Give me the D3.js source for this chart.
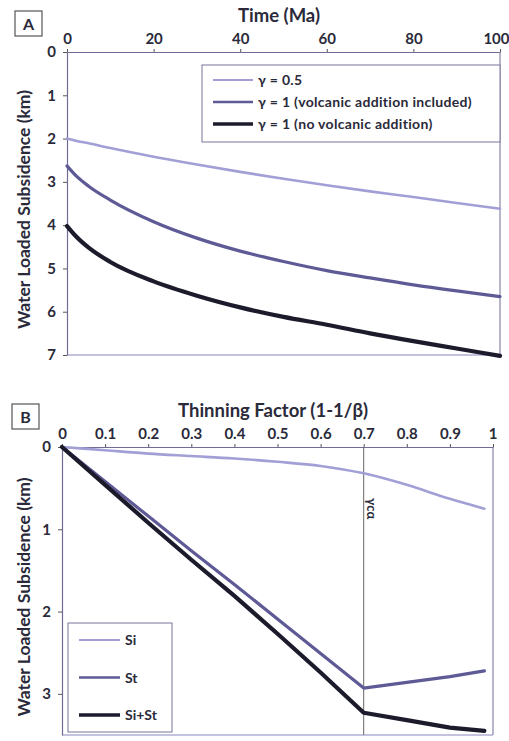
<!DOCTYPE html>
<html lang="en">
<head>
<meta charset="UTF-8">
<title>Water loaded subsidence</title>
<script src="https://d3js.org/d3.v7.min.js"></script>
<style>
  body { margin: 0; background: #fff; }
  svg { display: block; }
  text { font-family: Lato, "Open Sans", sans-serif; font-weight: bold; fill: #2a2a3a; }
</style>
</head>
<body>
<script>
// Panel A: subsidence vs time
const timeMa = [0, 2, 5, 10, 20, 30, 40, 50, 60, 70, 80, 90, 100];
const gammaHalf = [2.0, 2.05, 2.11, 2.22, 2.42, 2.6, 2.77, 2.93, 3.08, 3.22, 3.35, 3.49, 3.62];
const gammaOneVolc = [2.63, 2.85, 3.1, 3.42, 3.92, 4.3, 4.6, 4.84, 5.05, 5.22, 5.38, 5.52, 5.65];
const gammaOneNoVolc = [4.02, 4.25, 4.52, 4.85, 5.3, 5.63, 5.9, 6.12, 6.3, 6.5, 6.68, 6.85, 7.02];
const timeTicks = [0, 20, 40, 60, 80, 100];
const depthTicksA = [0, 1, 2, 3, 4, 5, 6, 7];
const legendA = ["\u03b3 = 0.5", "\u03b3 = 1 (volcanic addition included)", "\u03b3 = 1 (no volcanic addition)"];

// Panel B: subsidence vs thinning factor
const thinning = [0, 0.1, 0.2, 0.3, 0.4, 0.5, 0.6, 0.7, 0.8, 0.9, 0.98];
const si = [0, 0.04, 0.08, 0.11, 0.14, 0.18, 0.23, 0.32, 0.46, 0.63, 0.75];
const st = [0, 0.42, 0.84, 1.26, 1.67, 2.09, 2.51, 2.93, 2.86, 2.79, 2.72];
const siSt = [0, 0.46, 0.92, 1.37, 1.81, 2.27, 2.74, 3.23, 3.32, 3.41, 3.45];
const thinTicks = [0, 0.1, 0.2, 0.3, 0.4, 0.5, 0.6, 0.7, 0.8, 0.9, 1];
const depthTicksB = [0, 1, 2, 3];
const legendB = ["Si", "St", "Si+St"];
const gammaCrit = 0.7;

const colors = ["#a19fd6", "#5e5a96", "#1c1b2c"];
const widths = [2.6, 3.2, 4.2];
const axisColor = "#6f6d98";

const svg = d3.select("body").append("svg")
  .attr("width", 509).attr("height", 741);

function drawPanel(opt) {
  const x = d3.scaleLinear().domain(opt.xDomain).range([opt.left, opt.right]);
  const y = d3.scaleLinear().domain(opt.yDomain).range([opt.top, opt.bottom]);
  const g = svg.append("g");

  // frame: right and bottom lines
  g.append("line").attr("x1", opt.right).attr("x2", opt.right)
    .attr("y1", opt.top).attr("y2", opt.bottom)
    .attr("stroke", axisColor).attr("stroke-width", 1);
  g.append("line").attr("x1", opt.left).attr("x2", opt.right)
    .attr("y1", opt.bottom).attr("y2", opt.bottom)
    .attr("stroke", "#8a88c0").attr("stroke-width", 1.2);

  const xAxis = g.append("g").attr("transform", `translate(0,${opt.top})`)
    .call(d3.axisTop(x).tickValues(opt.xTicks).tickSize(3).tickSizeOuter(0)
      .tickFormat(opt.xFormat));
  const yAxis = g.append("g").attr("transform", `translate(${opt.left},0)`)
    .call(d3.axisLeft(y).tickValues(opt.yTicks).tickSize(4).tickPadding(7)
      .tickSizeOuter(0).tickFormat(d3.format("d")));
  [xAxis, yAxis].forEach(a => {
    a.select(".domain").attr("stroke", axisColor).attr("stroke-width", 1.2);
    a.selectAll(".tick line").attr("stroke", "#555");
    a.selectAll("text").style("font-family", "Lato, sans-serif")
      .style("font-weight", "bold").attr("font-size", 15).attr("fill", "#2a2a3a");
  });
  xAxis.selectAll("text").attr("dy", "-0.15em");
  // last top label sits on the page edge
  xAxis.selectAll(".tick").filter(d => d === opt.xDomain[1]).select("text")
    .attr("text-anchor", "end").attr("dx", opt.lastDx);

  // axis titles
  g.append("text").attr("x", opt.xTitleX).attr("y", opt.top - 30)
    .attr("text-anchor", "middle").attr("font-size", 18.5).text(opt.xTitle);
  g.append("text")
    .attr("transform", `translate(30,${(opt.top + opt.bottom) / 2 + 6}) rotate(-90)`)
    .attr("text-anchor", "middle").attr("font-size", 17.5).text("Water Loaded Subsidence (km)");

  // panel label box
  g.append("rect").attr("x", opt.labelX).attr("y", opt.labelY)
    .attr("width", 27).attr("height", 25).attr("fill", "#fff")
    .attr("stroke", "#555").attr("stroke-width", 1.2);
  g.append("text").attr("x", opt.labelX + 13.5).attr("y", opt.labelY + 18.5)
    .attr("text-anchor", "middle").attr("font-size", 16).text(opt.label);

  if (opt.extra) opt.extra(g, x, y);

  opt.series.forEach((s, i) => {
    const line = d3.line().x(d => x(d[0])).y(d => y(d[1])).curve(opt.curves[i]);
    g.append("path").datum(opt.xs.map((v, j) => [v, s[j]]))
      .attr("fill", "none").attr("stroke", colors[i]).attr("stroke-width", widths[i])
      .attr("stroke-linejoin", "round").attr("stroke-linecap", "round")
      .attr("d", line);
  });

  // legend
  const L = opt.legend;
  g.append("rect").attr("x", L.x).attr("y", L.y).attr("width", L.w).attr("height", L.h)
    .attr("fill", "#fff").attr("stroke", "#77769a").attr("stroke-width", 1);
  opt.legendLabels.forEach((t, i) => {
    const yy = L.y + L.first + i * L.step;
    g.append("line").attr("x1", L.x + 11).attr("x2", L.x + 11 + L.sample)
      .attr("y1", yy).attr("y2", yy)
      .attr("stroke", colors[i]).attr("stroke-width", widths[i] * 0.8);
    g.append("text").attr("x", L.x + 16 + L.sample).attr("y", yy + 5)
      .attr("font-size", L.font).attr("letter-spacing", L.spacing).text(t);
  });
}

const smooth = d3.curveMonotoneX;

drawPanel({
  xDomain: [0, 100], yDomain: [0, 7],
  left: 67, right: 500, top: 52, bottom: 355,
  xTicks: timeTicks, yTicks: depthTicksA, xFormat: d3.format("d"), lastDx: 9,
  xTitle: "Time (Ma)", xTitleX: 279,
  label: "A", labelX: 15, labelY: 11,
  xs: timeMa, series: [gammaHalf, gammaOneVolc, gammaOneNoVolc],
  curves: [smooth, smooth, smooth],
  legendLabels: legendA,
  legend: { x: 202, y: 65, w: 298, h: 77, first: 15, step: 22, sample: 40, font: 14, spacing: 0.3 }
});

drawPanel({
  xDomain: [0, 1], yDomain: [0, 3.5],
  left: 62, right: 493, top: 447, bottom: 735,
  xTicks: thinTicks, yTicks: depthTicksB,
  xFormat: d => d === 0 || d === 1 ? d3.format("d")(d) : d3.format(".1f")(d), lastDx: 4,
  xTitle: "Thinning Factor (1-1/\u03b2)", xTitleX: 273,
  label: "B", labelX: 12, labelY: 404,
  xs: thinning, series: [si, st, siSt],
  curves: [smooth, d3.curveLinear, d3.curveLinear],
  legendLabels: legendB,
  legend: { x: 68, y: 623, w: 104, h: 109, first: 17, step: 37.5, sample: 41, font: 14, spacing: 0 },
  extra: (g, x, y) => {
    g.append("line").attr("x1", x(gammaCrit)).attr("x2", x(gammaCrit))
      .attr("y1", y(0)).attr("y2", y(3.5))
      .attr("stroke", "#666").attr("stroke-width", 1);
    g.append("text")
      .attr("transform", `translate(${x(gammaCrit) + 3},${y(0.62)}) rotate(90)`)
      .attr("font-size", 13).attr("font-weight", "normal").attr("fill", "#333")
      .text("\u03b3c\u03b1");
  }
});
</script>
</body>
</html>
